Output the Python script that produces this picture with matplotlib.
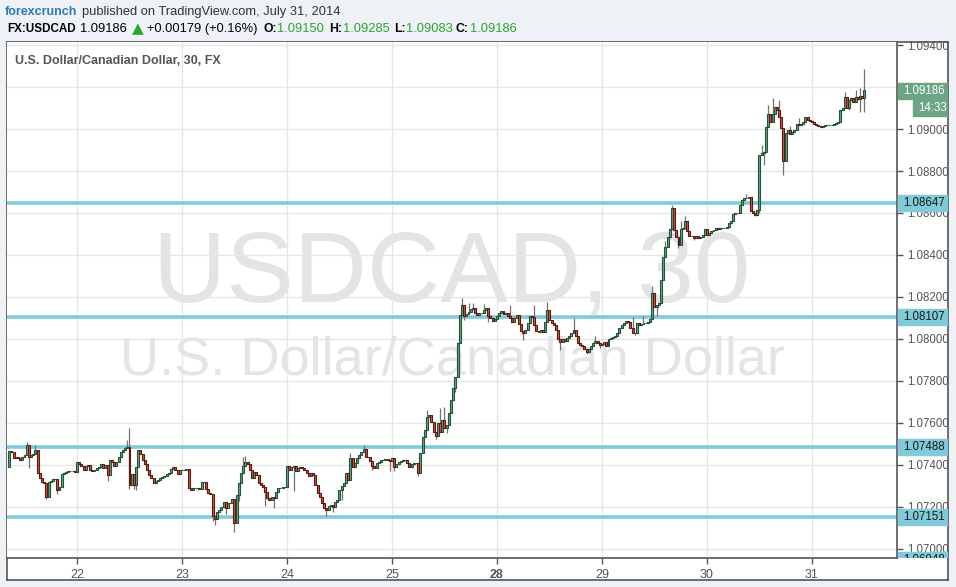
import matplotlib.pyplot as plt
from matplotlib.patches import Rectangle
import numpy as np

plt.rcParams['font.family'] = ['Liberation Sans', 'DejaVu Sans']

# 30 minute closes, one list per trading day
close_jul21 = [1.07467, 1.07462, 1.07433, 1.07438, 1.07433, 1.07424, 1.07438, 1.07448, 1.07495, 1.07438,
               1.07448, 1.07452, 1.07471, 1.07362, 1.07338, 1.07319, 1.07314, 1.07248, 1.07319, 1.07324,
               1.07333, 1.07333, 1.07281, 1.07295, 1.07357, 1.07362, 1.07367, 1.07371, 1.07371, 1.07371,
               1.07367]
close_jul22 = [1.07414, 1.07405, 1.07395, 1.07376, 1.07395, 1.07400, 1.07376, 1.07371, 1.07376, 1.07386,
               1.07390, 1.07405, 1.07386, 1.07400, 1.07352, 1.07424, 1.07414, 1.07395, 1.07414, 1.07438,
               1.07462, 1.07471, 1.07481, 1.07486, 1.07305, 1.07357, 1.07305, 1.07390, 1.07471, 1.07452,
               1.07424, 1.07405, 1.07376, 1.07352, 1.07338, 1.07314, 1.07324, 1.07329, 1.07338, 1.07343,
               1.07348, 1.07357, 1.07362, 1.07381, 1.07390, 1.07376, 1.07357, 1.07376]
close_jul23 = [1.07376, 1.07376, 1.07381, 1.07290, 1.07281, 1.07290, 1.07290, 1.07290, 1.07286, 1.07319,
               1.07319, 1.07286, 1.07267, 1.07262, 1.07157, 1.07143, 1.07176, 1.07186, 1.07200, 1.07224,
               1.07195, 1.07219, 1.07219, 1.07238, 1.07124, 1.07257, 1.07314, 1.07362, 1.07395, 1.07414,
               1.07405, 1.07376, 1.07338, 1.07367, 1.07352, 1.07314, 1.07305, 1.07295, 1.07271, 1.07243,
               1.07233, 1.07248, 1.07243, 1.07271, 1.07290, 1.07290, 1.07295, 1.07295]
close_jul24 = [1.07395, 1.07376, 1.07390, 1.07395, 1.07371, 1.07386, 1.07390, 1.07386, 1.07376, 1.07362,
               1.07348, 1.07362, 1.07352, 1.07305, 1.07267, 1.07248, 1.07219, 1.07195, 1.07186, 1.07205,
               1.07210, 1.07200, 1.07224, 1.07233, 1.07281, 1.07300, 1.07314, 1.07362, 1.07329, 1.07433,
               1.07390, 1.07410, 1.07433, 1.07448, 1.07462, 1.07476, 1.07438, 1.07438, 1.07419, 1.07395,
               1.07386, 1.07410, 1.07414, 1.07424, 1.07424, 1.07429, 1.07424, 1.07419]
close_jul25 = [1.07433, 1.07390, 1.07405, 1.07414, 1.07419, 1.07424, 1.07424, 1.07410, 1.07390, 1.07405,
               1.07410, 1.07410, 1.07362, 1.07457, 1.07533, 1.07567, 1.07629, 1.07638, 1.07605, 1.07557,
               1.07538, 1.07600, 1.07557, 1.07614, 1.07576, 1.07590, 1.07648, 1.07710, 1.07767, 1.07819,
               1.07981, 1.08114, 1.08162, 1.08110, 1.08119, 1.08129, 1.08143, 1.08148, 1.08124, 1.08114,
               1.08124, 1.08124, 1.08138, 1.08148, 1.08110, 1.08100, 1.08086, 1.08095]
close_jul28 = [1.08110, 1.08124, 1.08133, 1.08119, 1.08124, 1.08110, 1.08100, 1.08081, 1.08100, 1.08114,
               1.08071, 1.08038, 1.08029, 1.08043, 1.08076, 1.08110, 1.08105, 1.08067, 1.08038, 1.08033,
               1.08043, 1.08033, 1.08081, 1.08138, 1.08090, 1.08076, 1.08067, 1.08043, 1.08000, 1.07986,
               1.08000, 1.07990, 1.08005, 1.08014, 1.08029, 1.08043, 1.08014, 1.07981, 1.07971, 1.07967,
               1.07952, 1.07938, 1.07952, 1.07967, 1.07981, 1.07990, 1.07981, 1.07971]
close_jul29 = [1.07976, 1.07986, 1.07967, 1.08000, 1.08005, 1.08010, 1.08014, 1.08029, 1.08052, 1.08067,
               1.08076, 1.08086, 1.08081, 1.08052, 1.08029, 1.08029, 1.08076, 1.08067, 1.08071, 1.08076,
               1.08076, 1.08081, 1.08095, 1.08219, 1.08152, 1.08162, 1.08171, 1.08281, 1.08390, 1.08438,
               1.08486, 1.08524, 1.08624, 1.08519, 1.08486, 1.08448, 1.08524, 1.08529, 1.08562, 1.08514,
               1.08490, 1.08490, 1.08481, 1.08490, 1.08481, 1.08486, 1.08495, 1.08524]
close_jul30 = [1.08495, 1.08505, 1.08514, 1.08519, 1.08529, 1.08524, 1.08529, 1.08529, 1.08529, 1.08533,
               1.08552, 1.08562, 1.08595, 1.08600, 1.08600, 1.08638, 1.08662, 1.08671, 1.08671, 1.08676,
               1.08610, 1.08600, 1.08590, 1.08614, 1.08876, 1.08886, 1.08890, 1.09010, 1.09071, 1.09033,
               1.09071, 1.09105, 1.09090, 1.09057, 1.09005, 1.08848, 1.08981, 1.08995, 1.08976, 1.08986,
               1.08995, 1.09024, 1.09019, 1.09024, 1.09033, 1.09057, 1.09043, 1.09038]
close_jul31 = [1.09033, 1.09024, 1.09019, 1.09014, 1.09010, 1.09014, 1.09019, 1.09019, 1.09019, 1.09019,
               1.09024, 1.09029, 1.09033, 1.09090, 1.09100, 1.09152, 1.09100, 1.09138, 1.09148, 1.09129,
               1.09152, 1.09143, 1.09157, 1.09150, 1.09186]

day_closes = [close_jul21, close_jul22, close_jul23, close_jul24, close_jul25,
              close_jul28, close_jul29, close_jul30, close_jul31]
day_labels = ['22', '23', '24', '25', '28', '29', '30', '31']
first_open = 1.07390

# wicks that stick out beyond the body (bar index -> price)
wick_high = {8: 1.07510, 12: 1.07495, 54: 1.07519, 55: 1.07576, 107: 1.07438, 108: 1.07443,
             156: 1.07457, 162: 1.07495, 191: 1.07662, 197: 1.07671, 199: 1.07676, 207: 1.08195,
             210: 1.08171, 212: 1.08171, 217: 1.08167, 229: 1.08162, 240: 1.08162, 246: 1.08176,
             258: 1.08100, 268: 1.08014, 285: 1.08105, 290: 1.08110, 294: 1.08252, 300: 1.08467,
             303: 1.08638, 307: 1.08562, 309: 1.08586, 337: 1.08690, 344: 1.08924, 347: 1.09114,
             349: 1.09148, 352: 1.09138, 357: 1.09014, 361: 1.09052, 382: 1.09176, 387: 1.09186,
             389: 1.09195, 391: 1.09285}
wick_low = {9: 1.07386, 17: 1.07238, 22: 1.07262, 45: 1.07324, 55: 1.07286, 57: 1.07286,
            58: 1.07281, 93: 1.07133, 94: 1.07114, 99: 1.07167, 103: 1.07081, 105: 1.07229,
            117: 1.07205, 121: 1.07195, 130: 1.07276, 145: 1.07157, 148: 1.07176, 152: 1.07233,
            166: 1.07376, 174: 1.07371, 176: 1.07371, 187: 1.07348, 195: 1.07524, 200: 1.07552,
            204: 1.07748, 208: 1.08090, 219: 1.08081, 235: 1.07995, 252: 1.07948, 264: 1.07929,
            270: 1.07957, 286: 1.08019, 296: 1.08110, 299: 1.08319, 306: 1.08433, 313: 1.08471,
            341: 1.08586, 343: 1.08600, 345: 1.08829, 354: 1.08781, 384: 1.09090, 389: 1.09081,
            391: 1.09083}

support_levels = [1.08647, 1.08107, 1.07488, 1.07151, 1.06948]
price_ticks = [1.070, 1.072, 1.074, 1.076, 1.078, 1.080, 1.082, 1.084, 1.086, 1.088, 1.090, 1.092, 1.094]
last_price = 1.09186
countdown = '14:33'

closes = np.array([p for day in day_closes for p in day])
opens = np.concatenate([[first_open], closes[:-1]])
highs = np.maximum(opens, closes)
lows = np.minimum(opens, closes)
for i, p in wick_high.items():
    highs[i] = p
for i, p in wick_low.items():
    lows[i] = p
x = np.arange(len(closes))
day_starts = np.cumsum([len(d) for d in day_closes])[:-1]

W, H = 956, 587
fig = plt.figure(figsize=(W / 100, H / 100), dpi=100)
fig.patch.set_facecolor('#eef2f6')


def px(x0, y0):
    return x0 / W, 1 - y0 / H


def box(x0, y0, x1, y1):
    return [x0 / W, 1 - y1 / H, (x1 - x0) / W, (y1 - y0) / H]


# outer chart frame
frame = fig.add_axes(box(7, 42, 948, 580))
frame.set_facecolor('white')
frame.set_xticks([])
frame.set_yticks([])
for s in frame.spines.values():
    s.set_color('#555555')
    s.set_linewidth(1.2)

ax = fig.add_axes(box(7, 42, 897, 558))
ax.set_facecolor('white')
ax.set_xlim(-1.0, 405.9)
ax.set_ylim(1.069571, 1.094143)
for side in ['left', 'top']:
    ax.spines[side].set_visible(False)
for side in ['right', 'bottom']:
    ax.spines[side].set_color('#555555')
    ax.spines[side].set_linewidth(1.2)

ax.yaxis.tick_right()
ax.set_yticks(price_ticks)
# the 1.09200 label sits under the last price box
ax.set_yticklabels(['' if abs(p - 1.092) < 1e-9 else '%.5f' % p for p in price_ticks])
ax.set_xticks(day_starts)
ax.set_xticklabels(day_labels)
for lab in ax.get_xticklabels():
    if lab.get_text() == '28':
        lab.set_fontweight('bold')
ax.tick_params(axis='y', colors='#555555', labelsize=8.3, length=4, width=1, pad=3)
ax.tick_params(axis='x', colors='#555555', labelsize=9, length=4, width=1, pad=4)
ax.grid(True, color='#e6e6e6', lw=1)
ax.set_axisbelow(True)

# watermark
ax.text(0.5, 0.497, 'USDCAD, 30', transform=ax.transAxes, ha='center', va='baseline',
        fontsize=73, color='#e4e4e4', zorder=0.5)
ax.text(0.5, 0.356, 'U.S. Dollar/Canadian Dollar', transform=ax.transAxes, ha='center',
        va='baseline', fontsize=39, color='#e4e4e4', zorder=0.5)

for lvl in support_levels:
    ax.axhline(lvl, color='#80cbd9', lw=2.6, zorder=2)

up = closes >= opens
dn = ~up
ax.vlines(x, lows, highs, color='#737375', lw=0.9, zorder=3)
ax.bar(x[up], (closes - opens)[up], bottom=opens[up], width=0.9, color='#6ba583',
       edgecolor='#225437', lw=0.8, zorder=4)
ax.bar(x[dn], (closes - opens)[dn], bottom=opens[dn], width=0.9, color='#d75442',
       edgecolor='#5b1a13', lw=0.8, zorder=4)

# price scale labels
pax = fig.add_axes(box(897, 42, 948, 558), sharey=ax)
pax.set_xlim(0, 51)
pax.patch.set_alpha(0)
pax.axis('off')
pax.set_zorder(ax.get_zorder() + 1)
hh = 16 / 21000
for lvl in support_levels:
    pax.add_patch(Rectangle((0.5, lvl - hh / 2), 50, hh, color='#80cbd9', zorder=2))
    pax.text(6, lvl, '%.5f' % lvl, ha='left', va='center', fontsize=8.3, color='#1a1a1a',
             zorder=3, clip_on=True)
pax.add_patch(Rectangle((0.5, last_price - 1.5 / 21000 - hh / 2), 50, hh, color='#6ba583', zorder=2))
pax.text(6, last_price - 1.5 / 21000, '%.5f' % last_price, ha='left', va='center', fontsize=8.3,
         color='white', zorder=3)
cd_y = last_price - 18.5 / 21000
pax.add_patch(Rectangle((16, cd_y - hh / 2), 34.5, hh, color='#6ba583', zorder=2))
pax.text(21, cd_y, countdown, ha='left', va='center', fontsize=8.3, color='white', zorder=3)

# chart title and header
fig.text(*px(15, 61), 'U.S. Dollar/Canadian Dollar, 30, FX', fontsize=9, fontweight='bold',
         color='#555555', va='center')
fig.text(*px(5, 12), 'forexcrunch', fontsize=9, fontweight='bold', color='#2f7ab5', va='center')
fig.text(*px(82, 12), 'published on TradingView.com, July 31, 2014', fontsize=9.3, color='#333333',
         va='center')
green = '#2fa52f'
header = [(7, 'FX:USDCAD', 'bold', 'black', 8.4), (80, '1.09186', 'normal', 'black', 9.3),
          (147, '+0.00179 (+0.16%)', 'normal', 'black', 9.3),
          (263, 'O:', 'bold', 'black', 8.8), (277, '1.09150', 'normal', green, 9.3),
          (329, 'H:', 'bold', 'black', 8.8), (343, '1.09285', 'normal', green, 9.3),
          (394, 'L:', 'bold', 'black', 8.8), (406, '1.09083', 'normal', green, 9.3),
          (456, 'C:', 'bold', 'black', 8.8), (470, '1.09186', 'normal', green, 9.3)]
for hx, txt, wt, col, fs in header:
    fig.text(*px(hx, 29), txt, fontsize=fs, fontweight=wt, color=col, va='center')
fig.text(*px(132, 29), '\u25b2', fontsize=11, color=green, va='center', family='DejaVu Sans')

fig.savefig('out.png', dpi=100, facecolor=fig.get_facecolor())
